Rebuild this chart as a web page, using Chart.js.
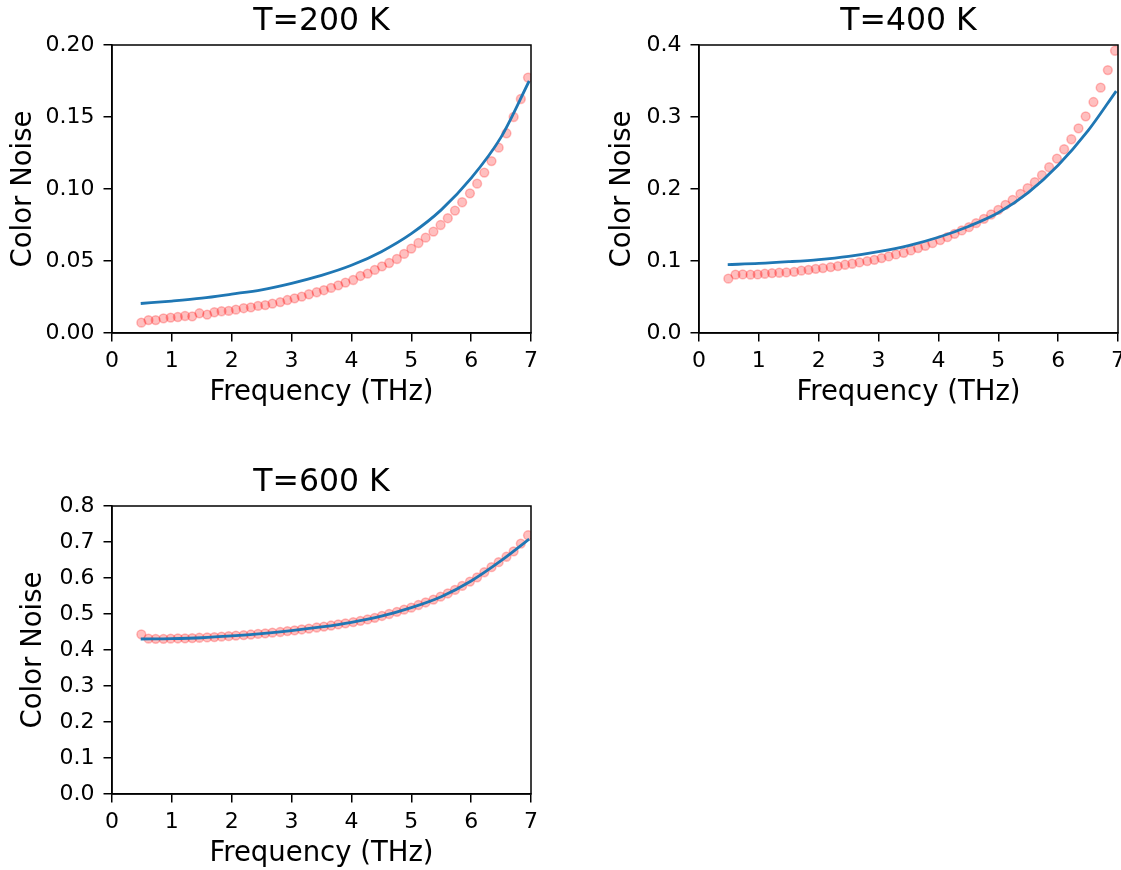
<!DOCTYPE html>
<html lang="en">
<head>
    <meta charset="UTF-8">
    <title>Color Noise vs Frequency</title>
    <script src="https://cdn.jsdelivr.net/npm/chart.js"></script>
    <style>
        html, body { margin: 0; background: #fff; overflow: hidden; }
        body { width: 1121px; height: 870px; position: relative; }
        canvas { position: absolute; }
    </style>
</head>
<body>
    <canvas id="c200" width="560" height="420" style="left:0;top:0"></canvas>
    <canvas id="c400" width="560" height="420" style="left:587px;top:0"></canvas>
    <canvas id="c600" width="560" height="420" style="left:0;top:461px"></canvas>

    <script>
        // frequencies of the measured points (THz)
        const freq = [0.49, 0.61, 0.73, 0.86, 0.98, 1.10, 1.22, 1.34, 1.46, 1.59,
                      1.71, 1.83, 1.95, 2.07, 2.20, 2.32, 2.44, 2.56, 2.68, 2.81,
                      2.93, 3.05, 3.17, 3.29, 3.42, 3.54, 3.66, 3.78, 3.90, 4.03,
                      4.15, 4.27, 4.39, 4.51, 4.63, 4.76, 4.88, 5.00, 5.12, 5.24,
                      5.37, 5.49, 5.61, 5.73, 5.85, 5.98, 6.10, 6.22, 6.34, 6.46,
                      6.59, 6.71, 6.83, 6.95];

        // measured color noise (pink circles)
        const noise200 = [0.0072, 0.0090, 0.0090, 0.0102, 0.0107, 0.0111, 0.0118, 0.0116, 0.0137, 0.0128,
                          0.0144, 0.0151, 0.0153, 0.0162, 0.0172, 0.0178, 0.0188, 0.0194, 0.0204, 0.0215,
                          0.0229, 0.0241, 0.0253, 0.0269, 0.0283, 0.0297, 0.0313, 0.0331, 0.0350, 0.0368,
                          0.0396, 0.0412, 0.0438, 0.0463, 0.0486, 0.0514, 0.0549, 0.0586, 0.0625, 0.0662,
                          0.0704, 0.0750, 0.0797, 0.0850, 0.0908, 0.0970, 0.1037, 0.1114, 0.1194, 0.1287,
                          0.1387, 0.1500, 0.1625, 0.1774];
        const noise400 = [0.0754, 0.0810, 0.0814, 0.0810, 0.0814, 0.0823, 0.0832, 0.0837, 0.0841, 0.0850,
                          0.0865, 0.0878, 0.0892, 0.0902, 0.0915, 0.0929, 0.0948, 0.0962, 0.0980, 0.0999,
                          0.1017, 0.1040, 0.1063, 0.1091, 0.1114, 0.1147, 0.1179, 0.1211, 0.1248, 0.1290,
                          0.1331, 0.1378, 0.1424, 0.1470, 0.1526, 0.1586, 0.1646, 0.1710, 0.1780, 0.1850,
                          0.1933, 0.2011, 0.2094, 0.2191, 0.2302, 0.2423, 0.2552, 0.2691, 0.2843, 0.3010,
                          0.3208, 0.3407, 0.3652, 0.3920];
        const noise600 = [0.4435, 0.4315, 0.4310, 0.4310, 0.4315, 0.4320, 0.4325, 0.4330, 0.4340, 0.4350,
                          0.4360, 0.4370, 0.4385, 0.4400, 0.4415, 0.4430, 0.4447, 0.4463, 0.4480, 0.4500,
                          0.4525, 0.4547, 0.4570, 0.4595, 0.4625, 0.4650, 0.4680, 0.4710, 0.4740, 0.4775,
                          0.4810, 0.4850, 0.4895, 0.4945, 0.5000, 0.5060, 0.5120, 0.5176, 0.5250, 0.5320,
                          0.5400, 0.5480, 0.5570, 0.5670, 0.5780, 0.5900, 0.6020, 0.6160, 0.6300, 0.6440,
                          0.6590, 0.6740, 0.6955, 0.7187];

        // model curve (blue line)
        const fitFreq = [0.48, 1, 1.5, 2, 2.5, 3, 3.5, 4, 4.5, 5, 5.5, 6, 6.5, 6.97];
        const fit200 = [0.0205, 0.0222, 0.0242, 0.0270, 0.0300, 0.0345, 0.0400, 0.0470, 0.0565, 0.0690, 0.0855, 0.1075, 0.1360, 0.1750];
        const fit400 = [0.0950, 0.0966, 0.0990, 0.1020, 0.1065, 0.1130, 0.1215, 0.1330, 0.1480, 0.1670, 0.1950, 0.2330, 0.2810, 0.3360];
        const fit600 = [0.4306, 0.4315, 0.4340, 0.4390, 0.4455, 0.4537, 0.4640, 0.4769, 0.4940, 0.5176, 0.5480, 0.5917, 0.6480, 0.7080];

        // tick labels
        const xTicks = ["0", "1", "2", "3", "4", "5", "6", "7"];
        const yTicks200 = ["0.00", "0.05", "0.10", "0.15", "0.20"];
        const yTicks400 = ["0.0", "0.1", "0.2", "0.3", "0.4"];
        const yTicks600 = ["0.0", "0.1", "0.2", "0.3", "0.4", "0.5", "0.6", "0.7", "0.8"];

        Chart.defaults.font.family = "'DejaVu Sans', sans-serif";
        Chart.defaults.color = "#000";

        // black box around the plot area
        const frame = {
            id: "frame",
            afterDatasetsDraw(chart) {
                const { ctx, chartArea: a } = chart;
                ctx.save();
                ctx.strokeStyle = "#000";
                ctx.lineWidth = 1.5;
                ctx.strokeRect(a.left, a.top, a.right - a.left, a.bottom - a.top);
                ctx.restore();
            }
        };

        function tickAxis(labels) {
            return {
                type: "linear",
                min: +labels[0],
                max: +labels[labels.length - 1],
                afterBuildTicks: s => { s.ticks = labels.map(t => ({ value: +t })); },
                grid: { drawOnChartArea: false, drawTicks: true, tickLength: 8.5, color: "#000", lineWidth: 1.5 },
                border: { display: true, color: "#000", width: 1.5 },
                ticks: { autoSkip: false, font: { size: 22 }, callback: (v, i) => labels[i] }
            };
        }

        function makeChart(id, title, noise, fit, yTicks, yTitlePad) {
            const x = tickAxis(xTicks);
            x.position = "bottom";
            x.ticks.padding = 7;
            x.title = { display: true, text: "Frequency (THz)", font: { size: 27.5 }, padding: { top: 0, bottom: 11 } };
            x.afterFit = s => { s.height = 87; };

            const y = tickAxis(yTicks);
            y.position = "left";
            y.ticks.padding = 9;
            y.title = { display: true, text: "Color Noise", font: { size: 27.5 }, padding: { top: yTitlePad, bottom: 0 } };
            y.afterFit = s => { s.width = 112; };

            new Chart(document.getElementById(id), {
                type: "scatter",
                data: {
                    datasets: [
                        {
                            label: "fit",
                            data: fitFreq.map((f, i) => ({ x: f, y: fit[i] })),
                            showLine: true,
                            cubicInterpolationMode: "monotone",
                            borderColor: "#1f77b4",
                            borderWidth: 2.8,
                            pointRadius: 0,
                            order: 0
                        },
                        {
                            label: "data",
                            data: freq.map((f, i) => ({ x: f, y: noise[i] })),
                            backgroundColor: "rgba(255, 0, 0, 0.25)",
                            borderColor: "rgba(255, 0, 0, 0.25)",
                            borderWidth: 1.5,
                            pointRadius: 4.4,
                            order: 1
                        }
                    ]
                },
                options: {
                    responsive: false,
                    animation: false,
                    events: [],
                    devicePixelRatio: 1,
                    layout: { padding: { left: 0, top: 0, right: 29, bottom: 0 } },
                    plugins: { legend: { display: false }, tooltip: { enabled: false } },
                    scales: {
                        x: x,
                        y: y,
                        x2: {
                            type: "linear", position: "top", min: 0, max: 7,
                            grid: { display: false, drawTicks: false },
                            border: { display: false },
                            ticks: { display: false },
                            title: { display: true, text: title, font: { size: 31.5 }, padding: { top: 3, bottom: 0 } },
                            afterFit: s => { s.height = 45; }
                        }
                    }
                },
                plugins: [frame]
            });
        }

        makeChart("c200", "T=200 K", noise200, fit200, yTicks200, 7.5);
        makeChart("c400", "T=400 K", noise400, fit400, yTicks400, 19);
        makeChart("c600", "T=600 K", noise600, fit600, yTicks600, 17.5);
    </script>
</body>
</html>
